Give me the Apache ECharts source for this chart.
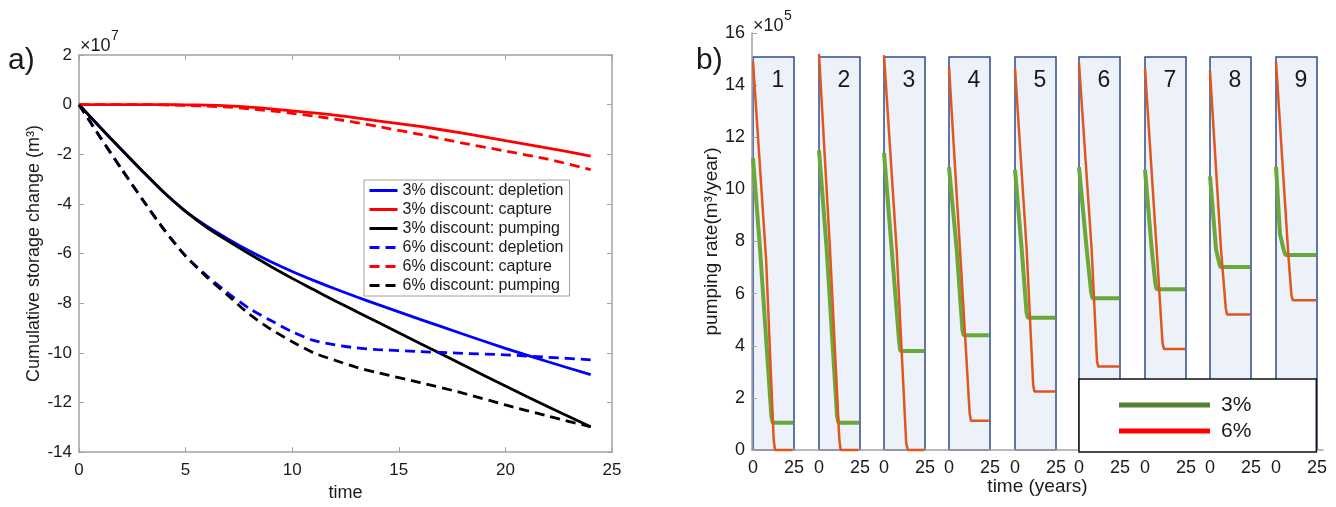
<!DOCTYPE html>
<html>
<head>
<meta charset="utf-8">
<script src="https://cdn.jsdelivr.net/npm/echarts@6/dist/echarts.min.js"></script>
<style>
html, body { margin: 0; padding: 0; background: #fff; }
#chart { width: 1336px; height: 507px; }
</style>
</head>
<body>
<div id="chart"></div>
<script>
// ---- panel a data (storage change, x10^7 m3) ----
var timeA = [0, 1, 2, 3, 4, 5, 6, 7, 8, 9, 10, 11, 12, 13, 14, 16, 18, 20, 22, 24];
var depletion3 = [0, -0.92, -1.82, -2.7, -3.55, -4.3, -4.9, -5.42, -5.9, -6.33, -6.72, -7.08, -7.42, -7.74, -8.05, -8.65, -9.24, -9.82, -10.36, -10.88];
var capture3 = [0, 0, 0, 0, 0, -0.01, -0.02, -0.05, -0.1, -0.17, -0.25, -0.33, -0.42, -0.53, -0.65, -0.88, -1.15, -1.45, -1.75, -2.07];
var pumping3 = [0, -0.92, -1.82, -2.7, -3.55, -4.3, -4.95, -5.5, -6.02, -6.52, -7.0, -7.45, -7.9, -8.33, -8.76, -9.62, -10.48, -11.34, -12.17, -12.98];
var depletion6 = [0, -1.32, -2.6, -3.85, -5.05, -6.1, -6.9, -7.6, -8.22, -8.7, -9.15, -9.5, -9.68, -9.8, -9.87, -9.95, -10.02, -10.08, -10.18, -10.28];
var capture6 = [0, 0, 0, 0, -0.01, -0.03, -0.06, -0.1, -0.17, -0.25, -0.35, -0.46, -0.58, -0.72, -0.88, -1.2, -1.55, -1.87, -2.2, -2.62];
var pumping6 = [0, -1.32, -2.6, -3.85, -5.05, -6.1, -6.95, -7.7, -8.45, -9.05, -9.55, -10.0, -10.3, -10.58, -10.8, -11.2, -11.62, -12.1, -12.55, -12.98];

// ---- panel b data (pumping rate, x10^5 m3/year), one list per well ----
var wellNames = ['1', '2', '3', '4', '5', '6', '7', '8', '9'];
var rate3 = [
    [[0, 11.2], [4.3, 7.7], [11.2, 1.3], [12, 1.05], [24.5, 1.05]],
    [[0, 11.5], [4.7, 7.7], [11, 1.3], [11.8, 1.05], [24.5, 1.05]],
    [[0, 11.4], [4.7, 7.7], [9.3, 4.1], [10, 3.8], [24.5, 3.8]],
    [[0, 10.85], [4.7, 7.7], [8.2, 4.6], [8.9, 4.4], [24.3, 4.4]],
    [[0, 10.75], [4.1, 7.7], [7.0, 5.3], [7.8, 5.07], [24.5, 5.07]],
    [[0, 10.85], [4.7, 7.7], [7.4, 6.05], [8.2, 5.82], [24.5, 5.82]],
    [[0, 10.75], [4.1, 7.7], [6.3, 6.4], [7.1, 6.17], [24.5, 6.17]],
    [[0, 10.5], [3.7, 7.7], [5.5, 7.2], [6.3, 7.02], [24.5, 7.02]],
    [[0, 10.87], [2.4, 8.3], [4.8, 7.65], [5.8, 7.48], [24.5, 7.48]]
];
var rate6 = [
    [[0, 14.9], [8, 7.3], [12.6, 0.4], [13.4, 0], [24, 0]],
    [[0, 15.2], [6.7, 7.7], [12.4, 0.4], [13.2, 0], [24, 0]],
    [[0, 15.15], [7.7, 7.7], [13.5, 0.3], [14.5, 0], [24.5, 0]],
    [[0, 14.7], [6.7, 7.7], [12.6, 1.4], [13.4, 1.12], [24.3, 1.12]],
    [[0, 14.65], [7.1, 7.7], [11.1, 2.5], [11.8, 2.24], [24.5, 2.24]],
    [[0, 14.85], [7.7, 7.7], [11, 3.4], [11.8, 3.2], [24.5, 3.2]],
    [[0, 14.65], [7.1, 7.7], [10.7, 4.1], [11.5, 3.88], [24.5, 3.88]],
    [[0, 14.55], [6.7, 7.7], [9.6, 5.45], [10.4, 5.2], [24.5, 5.2]],
    [[0, 14.9], [7.5, 7.5], [9.4, 5.95], [10.2, 5.75], [24.5, 5.75]]
];

var FONT = '"Liberation Sans", Arial, sans-serif';
var AXIS_GRAY = '#a3a3a3';
var TXT = '#1a1a1a';

// layout for panel b small boxes
var boxLeft = [753, 819, 884, 949, 1015, 1079, 1145, 1210, 1276];
var boxWidth = 41;
var boxTop = 57;
var axisBottomB = 450;

var chart = echarts.init(document.getElementById('chart'));

function pairs(xs, ys) {
    return xs.map(function (x, i) { return [x, ys[i]]; });
}

var grids = [
    { left: 79, top: 55, width: 533, height: 403 },          // a
    { left: 752, top: 33, width: 571, height: 417 }           // b main axes
];
var xAxes = [
    {
        gridIndex: 0, type: 'value', min: 0, max: 25, interval: 5,
        axisLine: { onZero: false, lineStyle: { color: AXIS_GRAY, width: 1.5 } },
        axisTick: { inside: true, length: 5, lineStyle: { color: AXIS_GRAY } },
        axisLabel: { color: TXT, fontSize: 17, margin: 10, fontFamily: FONT },
        splitLine: { show: false },
        name: 'time', nameLocation: 'middle', nameGap: 31,
        nameTextStyle: { color: TXT, fontSize: 18, fontFamily: FONT }
    },
    {
        gridIndex: 0, type: 'value', min: 0, max: 25, interval: 5, position: 'top',
        axisLine: { onZero: false, lineStyle: { color: AXIS_GRAY, width: 1.5 } },
        axisTick: { inside: true, length: 5, lineStyle: { color: AXIS_GRAY } },
        axisLabel: { show: false }, splitLine: { show: false }
    },
    {
        gridIndex: 1, type: 'value', min: 0, max: 1,
        axisLine: { onZero: false, lineStyle: { color: AXIS_GRAY, width: 1.5 } },
        axisTick: { show: false }, axisLabel: { show: false }, splitLine: { show: false },
        name: 'time (years)', nameLocation: 'middle', nameGap: 27,
        nameTextStyle: { color: TXT, fontSize: 19, fontFamily: FONT }
    }
];
var yAxes = [
    {
        gridIndex: 0, type: 'value', min: -14, max: 2, interval: 2,
        axisLine: { onZero: false, lineStyle: { color: AXIS_GRAY, width: 1.5 } },
        axisTick: { inside: true, length: 5, lineStyle: { color: AXIS_GRAY } },
        axisLabel: { color: TXT, fontSize: 17, margin: 7, fontFamily: FONT },
        splitLine: { show: false },
        name: 'Cumulative storage change (m³)', nameLocation: 'middle', nameGap: 34,
        nameTextStyle: { color: TXT, fontSize: 18, fontFamily: FONT }
    },
    {
        gridIndex: 0, type: 'value', min: -14, max: 2, interval: 2, position: 'right',
        axisLine: { onZero: false, lineStyle: { color: AXIS_GRAY, width: 1.5 } },
        axisTick: { inside: true, length: 5, lineStyle: { color: AXIS_GRAY } },
        axisLabel: { show: false }, splitLine: { show: false }
    },
    {
        gridIndex: 1, type: 'value', min: 0, max: 16, interval: 2,
        axisLine: { onZero: false, lineStyle: { color: AXIS_GRAY, width: 1.5 } },
        axisTick: { inside: true, length: 5, lineStyle: { color: AXIS_GRAY } },
        axisLabel: { color: TXT, fontSize: 18, margin: 7, fontFamily: FONT },
        splitLine: { show: false },
        name: 'pumping rate(m³/year)', nameLocation: 'middle', nameGap: 28,
        nameTextStyle: { color: TXT, fontSize: 19, fontFamily: FONT }
    }
];

var series = [
    { name: '3% discount: depletion', data: pairs(timeA, depletion3), color: '#0000ff', dash: 'solid' },
    { name: '3% discount: capture', data: pairs(timeA, capture3), color: '#ff0000', dash: 'solid' },
    { name: '3% discount: pumping', data: pairs(timeA, pumping3), color: '#000000', dash: 'solid' },
    { name: '6% discount: depletion', data: pairs(timeA, depletion6), color: '#0000ff', dash: [10, 6] },
    { name: '6% discount: capture', data: pairs(timeA, capture6), color: '#ff0000', dash: [10, 6] },
    { name: '6% discount: pumping', data: pairs(timeA, pumping6), color: '#000000', dash: [10, 6] }
].map(function (s) {
    return {
        name: s.name, type: 'line', xAxisIndex: 0, yAxisIndex: 0,
        data: s.data, symbol: 'none', smooth: 0.25, color: s.color,
        lineStyle: { color: s.color, width: 2.8, type: s.dash }
    };
});

var graphic = [
    { type: 'text', left: 8, top: 46, style: { text: 'a)', fill: TXT, font: '30px ' + FONT } },
    { type: 'text', left: 696, top: 46, style: { text: 'b)', fill: TXT, font: '30px ' + FONT } },
    { type: 'text', left: 80, top: 37, style: { text: '×10', fill: TXT, font: '18px ' + FONT } },
    { type: 'text', left: 111, top: 29, style: { text: '7', fill: TXT, font: '14px ' + FONT } },
    { type: 'text', left: 753, top: 17, style: { text: '×10', fill: TXT, font: '18px ' + FONT } },
    { type: 'text', left: 784, top: 9, style: { text: '5', fill: TXT, font: '14px ' + FONT } }
];

boxLeft.forEach(function (left, i) {
    grids.push({
        left: left, top: boxTop, width: boxWidth, height: axisBottomB - boxTop,
        show: true, backgroundColor: '#edf1f9', borderColor: '#2f4b8f', borderWidth: 1.5
    });
    xAxes.push({
        gridIndex: i + 2, type: 'value', min: 0, max: 25, interval: 25,
        axisLine: { show: false }, axisTick: { show: false }, splitLine: { show: false },
        axisLabel: { color: TXT, fontSize: 18, margin: 9, fontFamily: FONT, showMinLabel: true, showMaxLabel: true }
    });
    yAxes.push({
        gridIndex: i + 2, type: 'value', min: 0, max: 15.08, show: false, splitLine: { show: false }
    });
    series.push({
        name: '3%', type: 'line', xAxisIndex: i + 3, yAxisIndex: i + 3, data: rate3[i],
        symbol: 'none', clip: false, color: '#6aa83a', lineStyle: { color: '#6aa83a', width: 4 }
    });
    series.push({
        name: '6%', type: 'line', xAxisIndex: i + 3, yAxisIndex: i + 3, data: rate6[i],
        symbol: 'none', clip: false, color: '#e0561f', lineStyle: { color: '#e0561f', width: 2.5 }
    });
    graphic.push({
        type: 'text', x: left + 25, y: 81,
        style: { text: wellNames[i], fill: TXT, font: '23px ' + FONT, align: 'center', verticalAlign: 'middle' }
    });
});

var option = {
    animation: false,
    backgroundColor: '#ffffff',
    textStyle: { fontFamily: FONT },
    legend: [
        {
            data: ['3% discount: depletion', '3% discount: capture', '3% discount: pumping',
                   '6% discount: depletion', '6% discount: capture', '6% discount: pumping'],
            orient: 'vertical', left: 364, top: 180,
            itemWidth: 28, itemHeight: 14, itemGap: 0,
            padding: [1, 6, 1, 4],
            itemStyle: { opacity: 0 },
            lineStyle: { width: 3 },
            backgroundColor: '#ffffff', borderColor: '#a0a0a0', borderWidth: 1,
            textStyle: { fontSize: 16, lineHeight: 19, color: TXT, fontFamily: FONT }
        },
        {
            data: [
                { name: '3%', icon: 'rect', itemStyle: { color: '#548235' } },
                { name: '6%', icon: 'rect', itemStyle: { color: '#ff0000' } }
            ],
            orient: 'vertical', left: 1079, top: 379,
            itemWidth: 91, itemHeight: 5, itemGap: 0,
            padding: [13, 65, 8, 40],
            backgroundColor: '#ffffff', borderColor: '#111111', borderWidth: 1.5,
            textStyle: { fontSize: 21, lineHeight: 26, color: TXT, fontFamily: FONT, padding: [0, 0, 0, 6] }
        }
    ],
    grid: grids,
    xAxis: xAxes,
    yAxis: yAxes,
    series: series,
    graphic: graphic
};

chart.setOption(option);
</script>
</body>
</html>
